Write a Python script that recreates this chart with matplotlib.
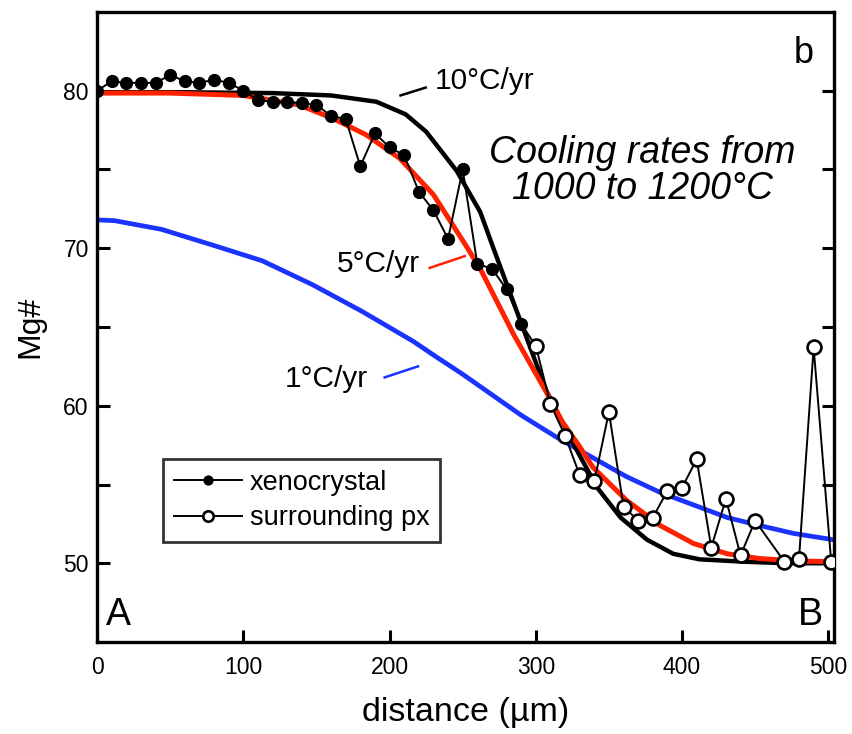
import matplotlib
matplotlib.use('Agg')
import matplotlib.pyplot as plt
import numpy as np

plt.rcParams['font.family'] = ['Liberation Sans', 'DejaVu Sans']

# measured Mg# profile, A -> B
xeno_x = [0, 10, 20, 30, 40, 50, 60, 70, 80, 90, 100, 110, 120, 130, 140, 150,
          160, 170, 180, 190, 200, 210, 220, 230, 240, 250, 260, 270, 280, 290]
xeno_y = [80.0, 80.6, 80.5, 80.5, 80.5, 81.0, 80.6, 80.5, 80.7, 80.5, 80.0, 79.4,
          79.3, 79.3, 79.2, 79.1, 78.4, 78.2, 75.2, 77.3, 76.4, 75.9, 73.6, 72.4,
          70.6, 75.0, 69.0, 68.7, 67.4, 65.2]

px_x = [300, 310, 320, 330, 340, 350, 360, 370, 380, 390, 400, 410, 420, 430,
        440, 450, 470, 480, 490, 502]
px_y = [63.8, 60.1, 58.1, 55.6, 55.2, 59.6, 53.6, 52.7, 52.9, 54.6, 54.8, 56.6,
        51.0, 54.1, 50.5, 52.7, 50.1, 50.3, 63.7, 50.1]

# modelled profiles for the three cooling rates
rate10_x = [0, 60, 120, 160, 191, 211, 225, 246, 262, 271, 291, 307, 325, 342,
            358, 376, 394, 412, 442, 472, 503]
rate10_y = [79.9, 79.9, 79.85, 79.7, 79.3, 78.5, 77.4, 74.9, 72.3, 70.0, 65.0,
            61.0, 57.7, 54.8, 52.9, 51.5, 50.6, 50.25, 50.1, 50.0, 50.0]

rate5_x = [0, 50, 100, 138, 161, 184, 207, 230, 252, 262, 285, 307, 318, 330,
           339, 362, 385, 408, 431, 453, 478, 503]
rate5_y = [79.85, 79.85, 79.7, 79.1, 78.25, 77.2, 75.7, 73.4, 70.2, 68.7, 64.5,
           60.9, 59.0, 57.4, 56.1, 54.0, 52.4, 51.25, 50.6, 50.3, 50.15, 50.1]

rate1_x = [0, 12, 44, 79, 113, 147, 181, 216, 232, 250, 270, 290, 316, 339,
           362, 385, 408, 431, 453, 476, 503]
rate1_y = [71.8, 71.75, 71.2, 70.2, 69.2, 67.7, 66.0, 64.1, 63.1, 62.0, 60.7,
           59.4, 57.9, 56.7, 55.5, 54.5, 53.7, 52.9, 52.4, 51.9, 51.5]

fig = plt.figure(figsize=(8.52, 7.34), dpi=100)
ax = fig.add_axes([0.114, 0.1253, 0.865, 0.8584])

ax.plot(rate1_x, rate1_y, color='#1a33ff', lw=3.4, zorder=1)
ax.plot(rate10_x, rate10_y, color='black', lw=3.2, zorder=2)
ax.plot(rate5_x, rate5_y, color='#ff2200', lw=3.6, zorder=3)

# thin joining segment between the two sample sets
ax.plot([xeno_x[-1], px_x[0]], [xeno_y[-1], px_y[0]], color='black', lw=1.4, zorder=4)
ax.plot(xeno_x, xeno_y, color='black', lw=1.4, marker='o', ms=8.5,
        mfc='black', mec='black', zorder=5, label='xenocrystal')
ax.plot(px_x, px_y, color='black', lw=1.4, marker='o', ms=10, mfc='white',
        mec='black', mew=1.9, zorder=5, label='surrounding px')

# rate labels with short leader lines
ax.plot([207.5, 224.7], [79.7, 80.2], color='black', lw=1.8)
ax.text(231, 80.6, '10°C/yr', fontsize=21.5, va='center', ha='left')
ax.plot([227.4, 251.4], [68.75, 69.5], color='#ff2200', lw=1.8)
ax.text(164, 69.0, '5°C/yr', fontsize=21.5, va='center', ha='left')
ax.plot([196.6, 219.4], [61.8, 62.5], color='#1a33ff', lw=1.8)
ax.text(128, 61.7, '1°C/yr', fontsize=21.5, va='center', ha='left')

ax.text(373, 74.9, 'Cooling rates from\n1000 to 1200°C', fontsize=27,
        style='italic', ha='center', va='center', linespacing=1.02)
ax.text(0.972, 0.962, 'b', transform=ax.transAxes, fontsize=26, ha='right', va='top')
ax.text(0.012, 0.015, 'A', transform=ax.transAxes, fontsize=27, ha='left', va='bottom')
ax.text(0.985, 0.015, 'B', transform=ax.transAxes, fontsize=27, ha='right', va='bottom')

ax.set_xlim(0, 504)
ax.set_ylim(45, 85)
ax.set_xticks([0, 100, 200, 300, 400, 500])
ax.set_yticks([50, 60, 70, 80])
ax.set_yticks([55, 65, 75], minor=True)
ax.tick_params(axis='both', which='both', direction='in', width=2.2, length=9,
               labelsize=16.5)
ax.tick_params(axis='y', which='both', right=True)
ax.tick_params(axis='x', pad=10)
ax.tick_params(axis='y', pad=6)
for s in ax.spines.values():
    s.set_linewidth(2.4)

ax.set_xlabel('distance (µm)', fontsize=24.5, labelpad=13)
ax.set_ylabel('Mg#', fontsize=23, labelpad=13)

leg = ax.legend(loc='upper left', bbox_to_anchor=(0.0896, 0.2905), borderaxespad=0,
                fontsize=19.5, frameon=True, fancybox=False, handlelength=2.5,
                handletextpad=0.3, borderpad=0.4, labelspacing=0.35, markerscale=0.75)
leg.get_frame().set_edgecolor('black')
leg.get_frame().set_linewidth(2.0)

fig.savefig('out.png', dpi=100)
